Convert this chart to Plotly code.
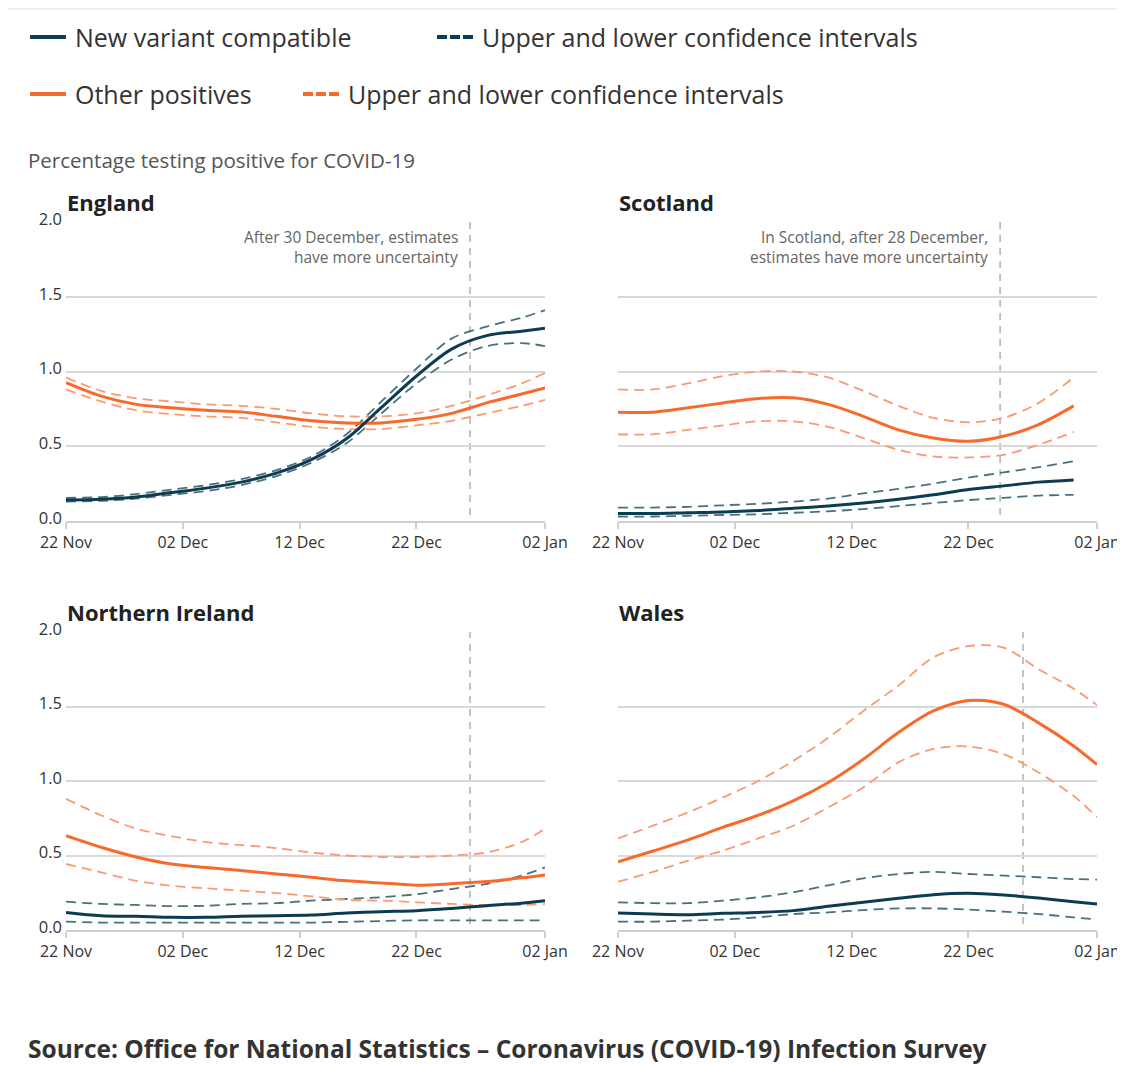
import plotly.graph_objects as go

# ---------------- data ----------------
dates_full = ["2020-11-22", "2020-11-25", "2020-11-28", "2020-12-01", "2020-12-04",
              "2020-12-07", "2020-12-10", "2020-12-13", "2020-12-16", "2020-12-19",
              "2020-12-22", "2020-12-25", "2020-12-28", "2020-12-31", "2021-01-02"]
dates_scot = dates_full[:14]

eng_nv = [0.14, 0.145, 0.16, 0.19, 0.22, 0.26, 0.32, 0.41, 0.55, 0.76, 0.97, 1.15, 1.24, 1.27, 1.29]
eng_nv_hi = [0.155, 0.16, 0.18, 0.21, 0.24, 0.28, 0.34, 0.43, 0.58, 0.80, 1.02, 1.22, 1.30, 1.36, 1.41]
eng_nv_lo = [0.13, 0.135, 0.15, 0.175, 0.20, 0.24, 0.30, 0.39, 0.52, 0.72, 0.92, 1.08, 1.17, 1.19, 1.17]
eng_ot = [0.925, 0.835, 0.78, 0.757, 0.74, 0.73, 0.70, 0.67, 0.656, 0.656, 0.68, 0.72, 0.79, 0.85, 0.89]
eng_ot_hi = [0.96, 0.87, 0.82, 0.80, 0.78, 0.77, 0.75, 0.72, 0.70, 0.70, 0.72, 0.77, 0.84, 0.92, 0.99]
eng_ot_lo = [0.88, 0.80, 0.74, 0.715, 0.70, 0.69, 0.66, 0.63, 0.615, 0.615, 0.64, 0.67, 0.72, 0.77, 0.81]

sco_nv = [0.05, 0.05, 0.055, 0.06, 0.07, 0.085, 0.10, 0.12, 0.145, 0.175, 0.21, 0.235, 0.26, 0.275]
sco_nv_hi = [0.09, 0.09, 0.095, 0.105, 0.115, 0.13, 0.15, 0.185, 0.215, 0.25, 0.29, 0.325, 0.36, 0.40]
sco_nv_lo = [0.03, 0.03, 0.035, 0.04, 0.045, 0.055, 0.065, 0.08, 0.10, 0.12, 0.14, 0.155, 0.17, 0.175]
sco_ot = [0.728, 0.728, 0.757, 0.79, 0.82, 0.824, 0.78, 0.70, 0.61, 0.555, 0.533, 0.567, 0.645, 0.77]
sco_ot_hi = [0.88, 0.88, 0.92, 0.97, 1.0, 1.0, 0.96, 0.87, 0.77, 0.69, 0.66, 0.69, 0.79, 0.96]
sco_ot_lo = [0.58, 0.58, 0.61, 0.64, 0.667, 0.667, 0.63, 0.555, 0.477, 0.432, 0.425, 0.443, 0.51, 0.596]

ni_nv = [0.118, 0.096, 0.092, 0.085, 0.085, 0.092, 0.096, 0.10, 0.114, 0.123, 0.13, 0.145, 0.163, 0.18, 0.197]
ni_nv_hi = [0.19, 0.175, 0.168, 0.16, 0.163, 0.175, 0.18, 0.197, 0.208, 0.22, 0.24, 0.275, 0.31, 0.365, 0.42]
ni_nv_lo = [0.056, 0.05, 0.05, 0.05, 0.05, 0.05, 0.05, 0.05, 0.055, 0.06, 0.065, 0.065, 0.065, 0.065, 0.065]
ni_ot = [0.633, 0.555, 0.49, 0.443, 0.42, 0.40, 0.376, 0.354, 0.33, 0.316, 0.30, 0.31, 0.325, 0.35, 0.37]
ni_ot_hi = [0.88, 0.77, 0.68, 0.63, 0.59, 0.57, 0.55, 0.52, 0.50, 0.49, 0.49, 0.50, 0.52, 0.59, 0.68]
ni_ot_lo = [0.443, 0.387, 0.33, 0.297, 0.28, 0.264, 0.248, 0.226, 0.203, 0.197, 0.186, 0.175, 0.168, 0.168, 0.175]

wal_nv = [0.114, 0.107, 0.103, 0.112, 0.118, 0.13, 0.16, 0.186, 0.213, 0.237, 0.246, 0.235, 0.215, 0.19, 0.175]
wal_nv_hi = [0.186, 0.18, 0.18, 0.197, 0.22, 0.253, 0.30, 0.347, 0.376, 0.39, 0.376, 0.365, 0.354, 0.342, 0.338]
wal_nv_lo = [0.056, 0.056, 0.063, 0.07, 0.085, 0.107, 0.118, 0.134, 0.145, 0.145, 0.137, 0.123, 0.107, 0.085, 0.07]
wal_ot = [0.458, 0.53, 0.605, 0.69, 0.77, 0.867, 0.99, 1.146, 1.325, 1.47, 1.54, 1.515, 1.39, 1.235, 1.11]
wal_ot_hi = [0.615, 0.70, 0.79, 0.89, 1.0, 1.135, 1.29, 1.47, 1.64, 1.83, 1.905, 1.895, 1.75, 1.62, 1.51]
wal_ot_lo = [0.324, 0.39, 0.465, 0.533, 0.615, 0.70, 0.823, 0.957, 1.125, 1.215, 1.232, 1.18, 1.057, 0.90, 0.757]

panel_names = ["England", "Scotland", "Northern Ireland", "Wales"]
cutoff_dates = ["2020-12-26 14:00", "2020-12-24 17:00", "2020-12-26 14:00", "2020-12-26 16:00"]
cutoff_notes = [["After 30 December, estimates", "have more uncertainty"],
                ["In Scotland, after 28 December,", "estimates have more uncertainty"], [], []]

x_tick_vals = ["2020-11-22", "2020-12-02", "2020-12-12", "2020-12-22", "2021-01-02"]
x_tick_text = ["22 Nov", "02 Dec", "12 Dec", "22 Dec", "02 Jan"]
y_tick_vals = [0.0, 0.5, 1.0, 1.5, 2.0]
y_tick_text = ["0.0", "0.5", "1.0", "1.5", "2.0"]

legend_labels = ["New variant compatible", "Upper and lower confidence intervals",
                 "Other positives", "Upper and lower confidence intervals"]
y_title = "Percentage testing positive for COVID-19"
source_text = "Source: Office for National Statistics – Coronavirus (COVID-19) Infection Survey"

# ---------------- styling ----------------
W, H = 1125, 1065
OFF = 8  # the page body margin shifts the figure by this many pixels
NAVY = "#0b3c53"
NAVY_CI = "#4a6f7f"
ORANGE = "#f8692c"
ORANGE_CI = "#f99a70"
FONT = "Open Sans"


def px(x):
    return (x - OFF) / W


def py(y):
    return 1 - (y - OFF) / H


panels = [
    dict(dates=dates_full, nv=eng_nv, nvh=eng_nv_hi, nvl=eng_nv_lo, ot=eng_ot, oth=eng_ot_hi, otl=eng_ot_lo),
    dict(dates=dates_scot, nv=sco_nv, nvh=sco_nv_hi, nvl=sco_nv_lo, ot=sco_ot, oth=sco_ot_hi, otl=sco_ot_lo),
    dict(dates=dates_full, nv=ni_nv, nvh=ni_nv_hi, nvl=ni_nv_lo, ot=ni_ot, oth=ni_ot_hi, otl=ni_ot_lo),
    dict(dates=dates_full, nv=wal_nv, nvh=wal_nv_hi, nvl=wal_nv_lo, ot=wal_ot, oth=wal_ot_hi, otl=wal_ot_lo),
]

# pixel boxes of each plot area in the target picture: (left, right, top, bottom)
boxes = [(66, 545, 222, 521), (618, 1097, 222, 521), (66, 545, 632, 930), (618, 1097, 632, 930)]

fig = go.Figure()
layout_axes = {}
shapes = []
annotations = []

for i, (p, box) in enumerate(zip(panels, boxes)):
    n = i + 1
    xa = "x" if n == 1 else f"x{n}"
    ya = "y" if n == 1 else f"y{n}"
    xkey = "xaxis" if n == 1 else f"xaxis{n}"
    ykey = "yaxis" if n == 1 else f"yaxis{n}"
    l, r, t, b = box
    layout_axes[xkey] = dict(
        domain=[px(l), px(r)], anchor=ya, type="date",
        range=["2020-11-22", "2021-01-02"],
        tickvals=x_tick_vals, ticktext=x_tick_text,
        showgrid=False, showline=True, linecolor="#cfcfcf", linewidth=1.5,
        ticks="outside", ticklen=6, tickcolor="#cfcfcf", tickwidth=1.5,
        tickfont=dict(family=FONT, size=16, color="#333333"), zeroline=False,
        fixedrange=True, automargin=False,
    )
    layout_axes[ykey] = dict(
        domain=[py(b), py(t)], anchor=xa, range=[0, 2.0],
        tickvals=y_tick_vals, ticktext=y_tick_text,
        showticklabels=(n in (1, 3)),
        showgrid=True, gridcolor="#d9d9d9", gridwidth=1.5,
        zeroline=False, showline=False, ticks="",
        ticklabelstandoff=3, ticklabelshift=-3,
        tickfont=dict(family=FONT, size=16.5, color="#333333"),
        fixedrange=True, automargin=False,
    )
    series = [
        (p["nvh"], NAVY_CI, 1.8, "10px,6px"),
        (p["nvl"], NAVY_CI, 1.8, "10px,6px"),
        (p["oth"], ORANGE_CI, 1.8, "10px,6px"),
        (p["otl"], ORANGE_CI, 1.8, "10px,6px"),
        (p["ot"], ORANGE, 3.0, "solid"),
        (p["nv"], NAVY, 3.0, "solid"),
    ]
    for vals, col, w, dash in series:
        fig.add_trace(go.Scatter(
            x=p["dates"], y=vals, xaxis=xa, yaxis=ya, mode="lines",
            line=dict(color=col, width=w, dash=dash, shape="spline", smoothing=0.9),
            showlegend=False, hoverinfo="skip",
        ))
    # cutoff line
    shapes.append(dict(type="line", xref=xa, yref=ya, x0=cutoff_dates[i], x1=cutoff_dates[i],
                       y0=0.04, y1=2.0, line=dict(color="#bdbdbd", width=1.8, dash="7px,6px"),
                       layer="below"))
    for k, line_text in enumerate(cutoff_notes[i]):
        annotations.append(dict(xref=xa, yref="paper", x=cutoff_dates[i], y=py(t + 15 + 20 * k),
                                xanchor="right", yanchor="middle", xshift=-10, showarrow=False,
                                text=line_text,
                                font=dict(family=FONT, size=15.5, color="#666666")))
    # panel title
    annotations.append(dict(xref="paper", yref="paper", x=px(l - 1), y=py(t - 20), xanchor="left",
                            yanchor="middle", showarrow=False, text=f"<b>{panel_names[i]}</b>",
                            font=dict(family=FONT, size=22, color="#222222")))

# grey page edge at the top
shapes.append(dict(type="rect", xref="paper", yref="paper", x0=0, x1=1, y0=py(10), y1=1,
                   fillcolor="#f1f1f1", line=dict(width=0), layer="below"))

# legend
legend_items = [
    (30, 37, NAVY, False, legend_labels[0]),
    (437, 37, NAVY, True, legend_labels[1]),
    (30, 94, ORANGE, False, legend_labels[2]),
    (303, 94, ORANGE, True, legend_labels[3]),
]
for lx, ly, col, dashed, label in legend_items:
    if dashed:
        for k in range(3):
            shapes.append(dict(type="line", xref="paper", yref="paper",
                               x0=px(lx + k * 13), x1=px(lx + k * 13 + 10), y0=py(ly), y1=py(ly),
                               line=dict(color=col, width=4)))
    else:
        shapes.append(dict(type="line", xref="paper", yref="paper", x0=px(lx), x1=px(lx + 36),
                           y0=py(ly), y1=py(ly), line=dict(color=col, width=4)))
    annotations.append(dict(xref="paper", yref="paper", x=px(lx + 43), y=py(ly), xanchor="left",
                            yanchor="middle", showarrow=False, text=label,
                            font=dict(family=FONT, size=25, color="#333333")))

annotations.append(dict(xref="paper", yref="paper", x=px(26), y=py(160), xanchor="left",
                        yanchor="middle", showarrow=False, text=y_title,
                        font=dict(family=FONT, size=20.5, color="#555555")))
annotations.append(dict(xref="paper", yref="paper", x=px(26), y=py(1048), xanchor="left",
                        yanchor="middle", showarrow=False, text=f"<b>{source_text}</b>",
                        font=dict(family=FONT, size=24.5, color="#333333")))

fig.update_layout(
    width=W, height=H, margin=dict(l=0, r=0, t=0, b=0, autoexpand=False),
    paper_bgcolor="white", plot_bgcolor="white",
    showlegend=False, shapes=shapes, annotations=annotations,
    font=dict(family=FONT),
    **layout_axes,
)

fig.write_html("out.html")
